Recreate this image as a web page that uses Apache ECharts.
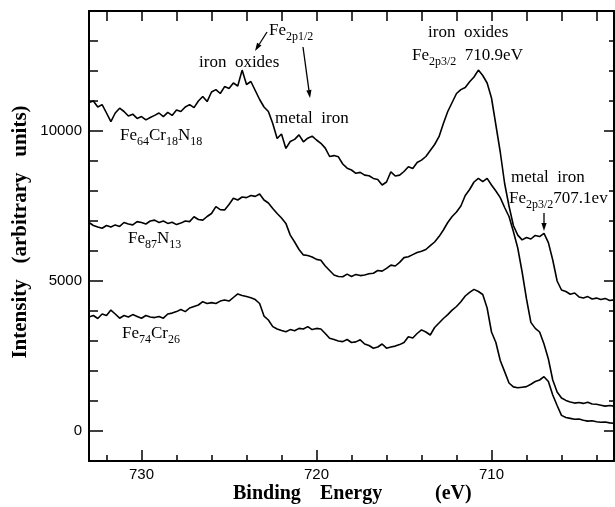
<!DOCTYPE html>
<html><head><meta charset="utf-8">
<script src="https://cdn.jsdelivr.net/npm/echarts@6/dist/echarts.min.js"></script>
<style>html,body{margin:0;padding:0;background:#fff}#c{width:615px;height:507px}</style>
</head><body><div id="c"></div>
<script>
// Binding energy grid (eV), 733 -> 703
const energy = [
733.0,732.75,732.5,732.25, 732.0,731.75,731.5,731.25, 731.0,730.75,730.5,730.25, 730.0,729.75,729.5,729.25,
729.0,728.75,728.5,728.25, 728.0,727.75,727.5,727.25, 727.0,726.75,726.5,726.25, 726.0,725.75,725.5,725.25,
725.0,724.75,724.5,724.25, 724.0,723.75,723.5,723.25, 723.0,722.75,722.5,722.25, 722.0,721.75,721.5,721.25,
721.0,720.75,720.5,720.25, 720.0,719.75,719.5,719.25, 719.0,718.75,718.5,718.25, 718.0,717.75,717.5,717.25,
717.0,716.75,716.5,716.25, 716.0,715.75,715.5,715.25, 715.0,714.75,714.5,714.25, 714.0,713.75,713.5,713.25,
713.0,712.75,712.5,712.25, 712.0,711.75,711.5,711.25, 711.0,710.75,710.5,710.25, 710.0,709.75,709.5,709.25,
709.0,708.75,708.5,708.25, 708.0,707.75,707.5,707.25, 707.0,706.75,706.5,706.25, 706.0,705.75,705.5,705.25,
705.0,704.75,704.5,704.25, 704.0,703.75,703.5,703.25, 703.0
];
// Fe64Cr18N18
const feCrN = [
10950,11000,10800,10880, 10600,10310,10600,10760, 10650,10500,10560,10420, 10480,10370,10450,10520,
10600,10480,10620,10520, 10700,10650,10800,10880, 10780,11000,11150,10980, 11300,11380,11250,11480,
11420,11600,11500,12030, 11550,11650,11350,11050, 10800,10650,10250,9750, 9900,9420,9650,9720,
9870,9640,9760,9830, 9700,9590,9430,9150, 9180,9140,8900,8760, 8700,8590,8620,8530,
8510,8420,8380,8200, 8300,8640,8500,8530, 8650,8810,8750,8950, 9030,9150,9350,9550,
9810,10250,10650,10950, 11250,11380,11450,11640, 11800,12030,11850,11600, 11100,10200,9300,8250,
7500,6850,6530,6370, 6450,6400,6520,6480, 6590,6280,5700,5000, 4700,4650,4560,4600,
4470,4430,4480,4400, 4430,4380,4420,4350, 4370
];
// Fe87N13
const feN = [
6950,6850,6800,6760, 6850,6800,6870,6820, 6950,6900,6870,6980, 6950,6900,7000,7030,
6950,7000,6920,6960, 6880,6930,7000,6980, 7140,7050,7030,7150, 7250,7480,7380,7370,
7550,7760,7700,7800, 7780,7850,7820,7900, 7700,7600,7420,7250, 7100,6920,6530,6300,
6050,5870,5850,5800, 5720,5690,5500,5350, 5200,5150,5140,5230, 5150,5220,5180,5200,
5240,5260,5350,5330, 5420,5530,5500,5620, 5780,5810,5880,5950, 5990,6050,6180,6300,
6480,6700,6950,7150, 7300,7500,7850,8050, 8300,8420,8310,8420, 8200,8000,7780,7450,
7150,6650,6100,5300, 4400,3620,3420,3300, 2900,2400,1700,1300, 1100,1020,970,930,
950,920,960,900, 890,860,830,850, 830
];
// Fe74Cr26
const feCr = [
3800,3850,3750,3900, 3850,4030,3900,3760, 3850,3800,3880,3820, 3760,3850,3800,3780,
3820,3760,3900,3930, 3980,4050,3980,4100, 4150,4200,4310,4250, 4280,4250,4330,4370,
4330,4450,4570,4520, 4480,4440,4380,4250, 3830,3700,3480,3400, 3350,3310,3380,3340,
3420,3400,3480,3380, 3420,3400,3250,3090, 3050,3000,2980,3050, 2950,2970,3040,2900,
2850,2760,2800,2900, 2760,2800,2830,2880, 2950,3140,3100,3250, 3370,3300,3200,3450,
3600,3750,3880,4030, 4150,4310,4500,4620, 4720,4650,4550,4100, 3300,2950,2350,1980,
1600,1470,1440,1460, 1480,1560,1650,1700, 1810,1650,1200,850, 520,450,420,390,
400,360,330,340, 310,290,300,270, 260
];
const xMajor = [730, 720, 710];
const xMinor = [732, 728, 726, 724, 722, 718, 716, 714, 712, 708, 706, 704];
const xAll = [732, 730, 728, 726, 724, 722, 720, 718, 716, 714, 712, 710, 708, 706, 704];
const yMajor = [0, 5000, 10000];
const yMinor = [1000, 2000, 3000, 4000, 6000, 7000, 8000, 9000, 11000, 12000, 13000];

const chart = echarts.init(document.getElementById('c'), null, {renderer: 'canvas'});
const pairs = v => energy.map((e, i) => [e, v[i]]);
const BLACK = '#000';
const serif = 'Liberation Serif';

function xAx(pos, line, ticks, len, labels) {
  return {
    type: 'value', gridIndex: 0, position: pos, inverse: true, min: 703, max: 733,
    axisLine: {show: line, onZero: false, lineStyle: {color: BLACK, width: 2}},
    axisTick: {show: true, inside: true, length: len, customValues: ticks, lineStyle: {color: BLACK, width: 1.5}},
    axisLabel: labels ? {show: true, customValues: labels, formatter: v => String(v), color: BLACK, fontSize: 15, fontFamily: 'Liberation Sans', margin: 6} : {show: false},
    splitLine: {show: false}
  };
}
function yAx(pos, line, ticks, len, labels) {
  return {
    type: 'value', gridIndex: 0, position: pos, min: -1000, max: 14000,
    axisLine: {show: line, onZero: false, lineStyle: {color: BLACK, width: 2}},
    axisTick: {show: true, inside: true, length: len, customValues: ticks, lineStyle: {color: BLACK, width: 1.5}},
    axisLabel: labels ? {show: true, customValues: labels, formatter: v => String(v), color: BLACK, fontSize: 15, fontFamily: 'Liberation Sans', margin: 7} : {show: false},
    splitLine: {show: false}
  };
}

function arrow(x1, y1, x2, y2) {
  const dx = x2 - x1, dy = y2 - y1, L = Math.hypot(dx, dy), ux = dx / L, uy = dy / L;
  const hl = 8, hw = 2.6, bx = x2 - ux * hl, by = y2 - uy * hl;
  return [
    {type: 'line', shape: {x1: x1, y1: y1, x2: bx, y2: by}, style: {stroke: BLACK, lineWidth: 1.3}},
    {type: 'polygon', shape: {points: [[x2, y2], [bx - uy * hw, by + ux * hw], [bx + uy * hw, by - ux * hw]]}, style: {fill: BLACK}}
  ];
}
const rich = {
  n: {fontFamily: serif, fontSize: 17, fill: BLACK, lineHeight: 24},
  s: {fontFamily: serif, fontSize: 12, fill: BLACK, lineHeight: 24, verticalAlign: 'bottom'}
};
function txt(x, y, text, opts) {
  return {
    type: 'text', x: x, y: y,
    style: Object.assign({text: text, fill: BLACK, fontFamily: serif, fontSize: 17, align: 'left', verticalAlign: 'middle', rich: rich}, opts || {})
  };
}

const graphics = [
  txt(199, 63, 'iron  oxides'),
  txt(269, 31, '{n|Fe}{s|2p1/2}'),
  txt(275, 119, 'metal  iron'),
  txt(428, 33, 'iron  oxides'),
  txt(412, 56, '{n|Fe}{s|2p3/2}{n|  710.9eV}'),
  txt(511, 178, 'metal  iron'),
  txt(509, 199, '{n|Fe}{s|2p3/2}{n|707.1ev}'),
  txt(120, 136, '{n|Fe}{s|64}{n|Cr}{s|18}{n|N}{s|18}'),
  txt(128, 239, '{n|Fe}{s|87}{n|N}{s|13}'),
  txt(122, 334, '{n|Fe}{s|74}{n|Cr}{s|26}'),
  txt(233, 494, 'Binding', {fontWeight: 'bold', fontSize: 20}),
  txt(320, 494, 'Energy', {fontWeight: 'bold', fontSize: 20}),
  txt(435, 494, '(eV)', {fontWeight: 'bold', fontSize: 20}),
  {type: 'text', x: 21, y: 232, rotation: Math.PI / 2,
   style: {text: 'Intensity   (arbitrary   units)', fill: BLACK, fontFamily: serif, fontWeight: 'bold', fontSize: 21, align: 'center', verticalAlign: 'middle'}}
].concat(arrow(267, 32, 255, 51), arrow(303, 47, 310, 98), arrow(544, 213, 544, 231));

chart.setOption({
  animation: false,
  backgroundColor: '#fff',
  grid: {left: 89, right: 1, top: 11, bottom: 46},
  xAxis: [
    xAx('bottom', true, xMajor, 11, xMajor),
    xAx('bottom', false, xMinor, 6, null),
    xAx('top', true, xAll, 10, null)
  ],
  yAxis: [
    yAx('left', true, yMajor, 14, yMajor),
    yAx('left', false, yMinor, 9, null),
    yAx('right', true, yMajor, 10, null),
    yAx('right', false, yMinor, 5, null)
  ],
  series: [
    {name: 'Fe64Cr18N18', type: 'line', data: pairs(feCrN), showSymbol: false, symbol: 'none', lineStyle: {color: BLACK, width: 1.6}},
    {name: 'Fe87N13', type: 'line', data: pairs(feN), showSymbol: false, symbol: 'none', lineStyle: {color: BLACK, width: 1.6}},
    {name: 'Fe74Cr26', type: 'line', data: pairs(feCr), showSymbol: false, symbol: 'none', lineStyle: {color: BLACK, width: 1.6}}
  ],
  graphic: graphics
});
</script></body></html>
